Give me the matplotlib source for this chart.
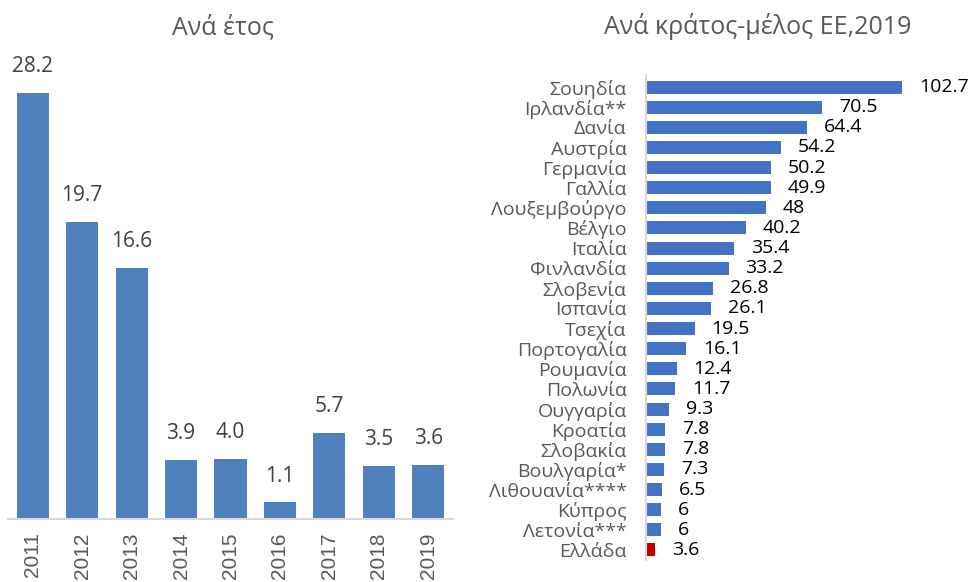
import matplotlib
matplotlib.use("Agg")
import matplotlib.pyplot as plt

# left panel: by year
years = ["2011", "2012", "2013", "2014", "2015", "2016", "2017", "2018", "2019"]
year_vals = [28.2, 19.7, 16.6, 3.9, 4.0, 1.1, 5.7, 3.5, 3.6]

# right panel: by EU member state, 2019
countries = ["Σουηδία", "Ιρλανδία**", "Δανία", "Αυστρία", "Γερμανία", "Γαλλία",
             "Λουξεμβούργο", "Βέλγιο", "Ιταλία", "Φινλανδία", "Σλοβενία", "Ισπανία",
             "Τσεχία", "Πορτογαλία", "Ρουμανία", "Πολωνία", "Ουγγαρία", "Κροατία",
             "Σλοβακία", "Βουλγαρία*", "Λιθουανία****", "Κύπρος", "Λετονία***", "Ελλάδα"]
country_vals = [102.7, 70.5, 64.4, 54.2, 50.2, 49.9, 48, 40.2, 35.4, 33.2, 26.8, 26.1,
                19.5, 16.1, 12.4, 11.7, 9.3, 7.8, 7.8, 7.3, 6.5, 6, 6, 3.6]

plt.rcParams['font.family'] = ['Open Sans', 'DejaVu Sans']

fig = plt.figure(figsize=(9.68, 5.82), dpi=100)

# ---- left chart
ax1 = fig.add_axes([8/968, 63/582, 445/968, 459/582])
x = range(len(years))
ax1.bar(x, year_vals, width=0.65, color="#4F81BD")
ax1.set_xlim(-0.5, 8.5)
ax1.set_ylim(0, 30.4)
for i, v in enumerate(year_vals):
    ax1.annotate("%.1f" % v, (i, v), xytext=(0, 19), textcoords="offset points",
                 ha="center", va="center", fontsize=15, color="#404040")
ax1.set_xticks(list(x))
ax1.set_xticklabels(years, rotation=90, fontsize=15, color="#595959",
                    family="Liberation Sans")
ax1.tick_params(axis="x", length=0, pad=9.5)
ax1.set_yticks([])
for s in ["top", "right", "left"]:
    ax1.spines[s].set_visible(False)
ax1.spines["bottom"].set_color("#D9D9D9")
ax1.spines["bottom"].set_linewidth(1.5)
fig.text(223/968, 1 - 27/582, "Ανά έτος", ha="center", va="center",
         fontsize=18, color="#595959")

# ---- right chart
ax2 = fig.add_axes([646/968, 22/582, 322/968, 485/582])
colors = ["#4472C4"] * (len(countries) - 1) + ["#C00000"]
y = range(len(countries))
ax2.barh(y, country_vals, height=0.65, color=colors)
ax2.set_ylim(23.5, -0.6)
ax2.set_xlim(0, 129)
for i, v in enumerate(country_vals):
    ax2.annotate("%g" % v, (v, i), xytext=(12, 0), textcoords="offset points",
                 ha="left", va="center", fontsize=14, color="black")
ax2.set_yticks(list(y))
ax2.set_yticklabels(countries, fontsize=14, color="#595959")
ax2.tick_params(axis="y", length=0, pad=14)
ax2.set_xticks([])
for s in ["top", "right", "bottom"]:
    ax2.spines[s].set_visible(False)
ax2.spines["left"].set_color("#D9D9D9")
ax2.spines["left"].set_linewidth(1.5)
fig.text(758/968, 1 - 27/582, "Ανά κράτος-μέλος ΕΕ,2019", ha="center", va="center",
         fontsize=18, color="#595959")

fig.savefig("out.png", dpi=100)
